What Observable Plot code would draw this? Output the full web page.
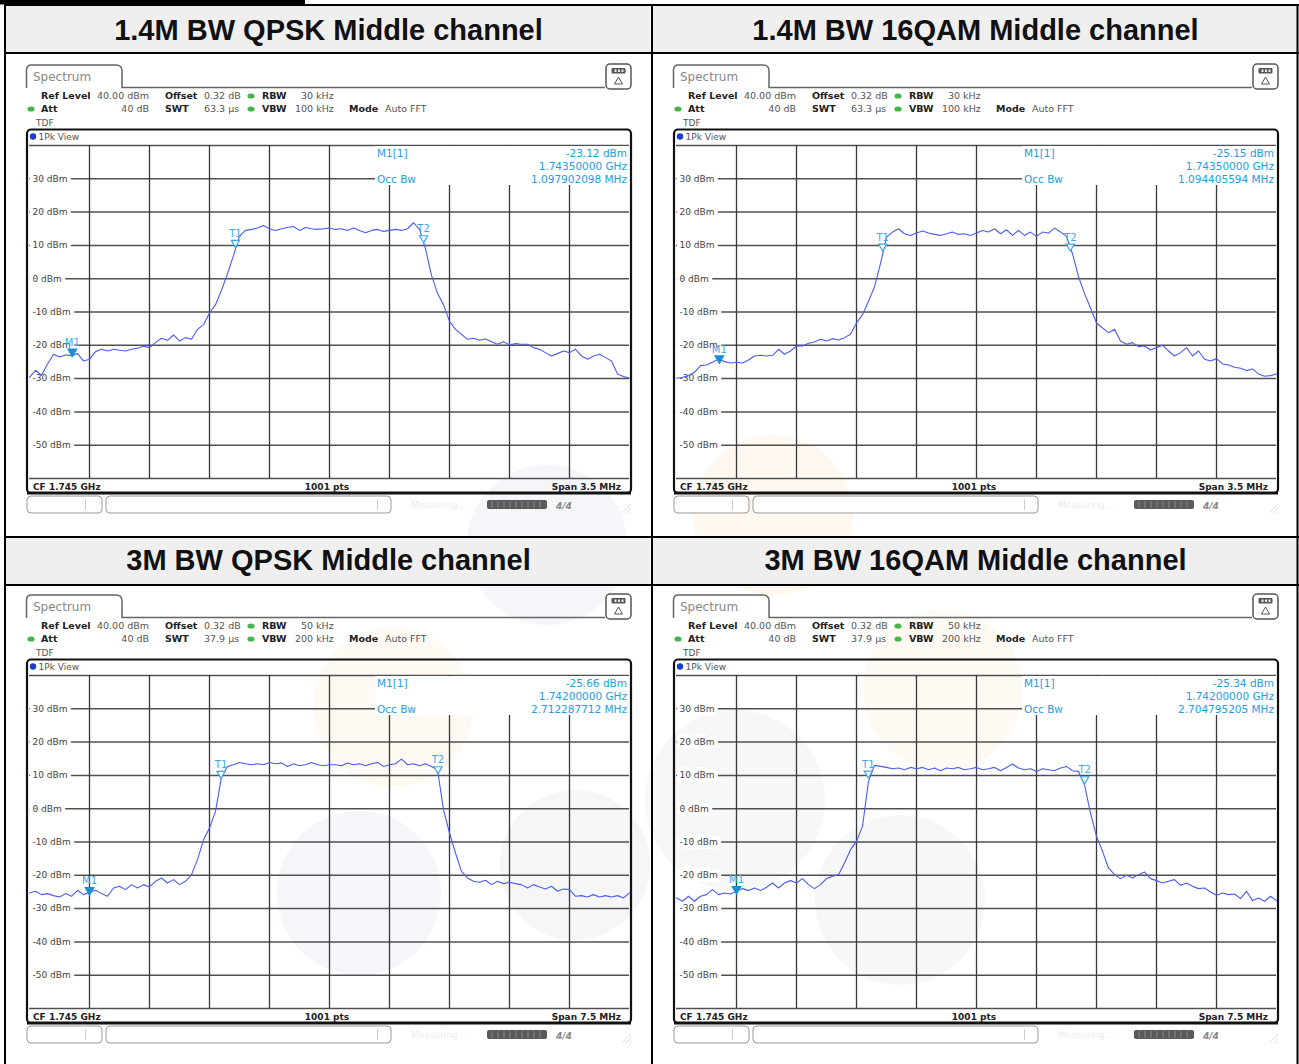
<!DOCTYPE html>
<html><head><meta charset="utf-8">
<script src="https://cdn.jsdelivr.net/npm/d3@7"></script>
<script src="https://cdn.jsdelivr.net/npm/@observablehq/plot@0.6"></script>
<style>
html,body{margin:0;padding:0;background:#fff;}
#wrap{position:relative;width:1299px;height:1064px;overflow:hidden;font-family:"DejaVu Sans",sans-serif;}
#bg{position:absolute;left:0;top:0;z-index:1;}
#chrome{position:absolute;left:0;top:0;z-index:3;pointer-events:none;}
.plotbox{position:absolute;z-index:2;}
</style></head><body>
<div id="wrap"><svg id="bg" width="1299" height="1064"></svg><svg id="chrome" width="1299" height="1064"></svg></div>
<script>
// ---------------- data ----------------
const panelTitles = ["1.4M BW QPSK Middle channel", "1.4M BW 16QAM Middle channel", "3M BW QPSK Middle channel", "3M BW 16QAM Middle channel"];
const centerGHz = 1.745;
const spanMHz = [3.5, 3.5, 7.5, 7.5];
const rbwText = ["30 kHz", "30 kHz", "50 kHz", "50 kHz"];
const vbwText = ["100 kHz", "100 kHz", "200 kHz", "200 kHz"];
const swtText = ["63.3 µs", "63.3 µs", "37.9 µs", "37.9 µs"];
const levelGrid = [40, 30, 20, 10, 0, -10, -20, -30, -40, -50, -60];
const levelLabels = [30, 20, 10, 0, -10, -20, -30, -40, -50];
const m1FreqGHz = [1.7435, 1.7435, 1.742, 1.742];
const m1Level = [-23.12, -25.15, -25.66, -25.34];
const occBwMHz = [1.097902098, 1.094405594, 2.712287712, 2.704795205];
const t1Level = [9.6, 8.5, 9.3, 9.4];
const t2Level = [11.0, 8.5, 10.7, 7.7];

// traces: level (dBm) sampled every 1/100 of the span, left to right
const traceQpsk14 = [-29.6,-27.5,-29,-25.6,-22.7,-23.5,-22.9,-23.1,-22.5,-24.7,
-24.2,-21.9,-21.2,-21.7,-21.2,-21.5,-21.7,-21.2,-20.9,-20.3,
-20.7,-19.2,-17.9,-18.5,-16.9,-18.7,-17.7,-18.2,-15.2,-13.8,
-10.3,-7.8,-3.5,1.5,7,12.8,14.5,14.8,15.2,16,
15,14.5,15,15.4,15.7,14.5,15.4,15,14.8,15,
15.2,14.8,15,14.5,15.2,14.5,13.8,14.5,14.8,14.2,
14.5,14.8,14.5,15,16.8,14.8,9,1,-4.4,-7.8,
-12.8,-15.2,-16.7,-18.2,-17.9,-18.5,-18.1,-18.9,-19.7,-18.9,
-19.9,-19.5,-19.7,-19.7,-20.7,-21.2,-22.2,-23.2,-22.5,-21.7,
-22.2,-21.2,-23.2,-24.2,-23.2,-22.7,-23.7,-24.7,-28.6,-29.4,
-29.8];
const trace16qam14 = [-29.9,-29.6,-29.1,-28.1,-26.1,-25.9,-25.1,-24.2,-24.9,-25.3,
-25.1,-25.3,-24.4,-23.2,-23,-23.2,-23,-21.2,-22.7,-21.7,
-20.2,-20.2,-19.4,-19,-18.2,-18.7,-18,-18.4,-17.7,-16.7,
-13.3,-10.8,-6.8,-2.4,4.5,12.5,14,15,13.5,13,
13.7,14.3,13.7,13.3,13,13.5,14,13.3,13.5,13,
13.7,14.5,14,15,13.5,14.7,13,14.5,13,14,
12.7,14,13.7,15.2,14,12.7,7.5,0.6,-4.4,-8.8,
-13.3,-14.8,-16.2,-15.2,-18.7,-19.7,-19.2,-20.4,-20.2,-21.4,
-20.7,-20,-21.7,-23.2,-22.2,-20.7,-23.2,-21.7,-24.2,-24.7,
-24,-25.6,-25.9,-26.6,-26.9,-27.6,-27.1,-28.6,-29.3,-29.1,
-28.6];
const traceQpsk3 = [-25.3,-24.8,-25.8,-25.5,-26.1,-26.5,-25.5,-26.3,-24.5,-25.8,
-25.1,-24.5,-25.5,-26.3,-23.8,-23.3,-24.3,-22.8,-23.8,-22.8,
-23.5,-21.8,-20.8,-22.3,-21.3,-22.8,-21.8,-19.8,-15.3,-9.3,
-5.8,-0.8,9.5,12.7,13.2,13.9,13.5,13.2,13.5,13.2,
13.9,13.5,13.7,12.7,13.5,12.9,13.2,13.9,13.2,12.9,
13.2,13.2,12.9,13.7,13.2,13.5,12.9,13.5,13.9,12.7,
13.2,13.5,14.9,13.2,13.5,12.9,13.5,12.7,11.7,-0.3,
-7.3,-13.3,-18.8,-20.8,-21.8,-22.1,-21.5,-22.8,-21.8,-22.5,
-22.1,-22.5,-22.8,-23.8,-22.8,-23.5,-24.1,-23.3,-24.8,-24.1,
-24.3,-26.3,-26.1,-26.5,-25.8,-26.5,-26.1,-26.5,-26.1,-26.8,
-25.3];
const trace16qam3 = [-26.8,-27.8,-26.3,-27.8,-26.3,-25.8,-24.3,-25.8,-25.3,-25.6,
-24.8,-24,-24.6,-23.8,-24.6,-23.6,-22.3,-23.8,-22.3,-21.6,
-22.3,-21,-22.8,-24,-22.8,-21,-20.3,-19.8,-16.3,-12.3,
-9.8,-5.3,8.2,13,12.7,12.4,12,12.2,11.7,12.4,
12,12.4,11.7,12.2,11.4,12.2,12,12.4,11.7,12,
12.4,11.7,12,12.4,11.4,12.4,13.4,12.2,11.7,12,
11.2,12,11.7,11.4,12.2,12.7,11.4,11.2,7.2,-1.3,
-8.3,-12.8,-17.8,-19.8,-21,-20,-20.8,-19.8,-19,-21,
-21.6,-22.3,-21.8,-21.3,-23,-22.3,-23.3,-24,-23.8,-25,
-26,-25.3,-25.8,-25.6,-27,-24.8,-27.6,-26.8,-27.8,-26.3,
-27.6];
const traces = [traceQpsk14, trace16qam14, traceQpsk3, trace16qam3];

// ---------------- layout ----------------
const panelOffsets = [[0, 0], [647, 0], [0, 530], [647, 530]];
const TRACE = "#4a5cf2", MARK = "#1f9ce3", MARK2 = "#3aa8e8";

const bg = d3.select("#bg");
const chrome = d3.select("#chrome");
const wrap = document.getElementById("wrap");

function txt(g, x, y, s, o = {}) {
  return g.append("text").attr("x", x).attr("y", y).text(s)
    .attr("font-size", o.size || 9.5)
    .attr("font-weight", o.bold ? "bold" : null)
    .attr("font-style", o.italic ? "italic" : null)
    .attr("text-anchor", o.anchor || "start")
    .attr("fill", o.fill || "#444")
    .attr("font-family", o.family || "DejaVu Sans");
}

// watermark blobs (very faint)
[[547, 545, 80, "#f5f6f9"], [359, 893, 82, "#f5f6f9"], [575, 865, 75, "#f6f6f9"],
 [393, 707, 80, "#fef9f3"], [773, 515, 80, "#fef8f1"], [943, 690, 80, "#fef9f3"],
 [735, 800, 90, "#f6f7f9"], [900, 900, 85, "#f6f7f9"]].forEach(([x, y, r, c]) =>
  bg.append("circle").attr("cx", x).attr("cy", y).attr("r", r).attr("fill", c));

// table
bg.append("rect").attr("x", 0).attr("y", 0).attr("width", 305).attr("height", 4.5).attr("fill", "#000");
[[6, 6], [653, 6], [6, 538], [653, 538]].forEach(([x, y]) =>
  bg.append("rect").attr("x", x).attr("y", y).attr("width", 644).attr("height", 46).attr("fill", "#efefef"));
const lines = [[4, 5, 1299, 5], [5, 4, 5, 1064], [1297.5, 4, 1297.5, 1064], [652, 4, 652, 1064],
  [4, 53, 1299, 53], [4, 537, 1299, 537], [4, 585, 1299, 585]];
lines.forEach(([x1, y1, x2, y2]) => bg.append("line").attr("x1", x1).attr("y1", y1).attr("x2", x2).attr("y2", y2)
  .attr("stroke", "#000").attr("stroke-width", 2));
panelTitles.forEach((t, i) => {
  const [ox, oy] = panelOffsets[i];
  txt(bg, 328.5 + ox, 40 + oy, t, {size: 29, bold: true, anchor: "middle", fill: "#111", family: "Liberation Sans, Arial, sans-serif"});
});

function greenDot(g, x, y) {
  g.append("ellipse").attr("cx", x).attr("cy", y).attr("rx", 3.6).attr("ry", 2.6).attr("fill", "#45b549");
}

function drawPanel(i) {
  const [ox, oy] = panelOffsets[i];
  const span = spanMHz[i];
  const n = traces[i].length;
  const rows = traces[i].map((v, k) => ({f: -span / 2 + span * k / (n - 1), level: v}));
  const divs = d3.range(1, 10).map(k => -span / 2 + span * k / 10);
  const markers = [
    {name: "M1", f: (m1FreqGHz[i] - centerGHz) * 1000, level: m1Level[i], filled: true},
    {name: "T1", f: -occBwMHz[i] / 2, level: t1Level[i], filled: false},
    {name: "T2", f: occBwMHz[i] / 2, level: t2Level[i], filled: false}
  ];
  const chart = Plot.plot({
    width: 600, height: 333, margin: 0,
    x: {domain: [-span / 2, span / 2], axis: null},
    y: {domain: [-60, 40], axis: null},
    style: {background: "transparent", overflow: "visible", fontFamily: "DejaVu Sans"},
    marks: [
      Plot.ruleY(levelGrid, {stroke: "#505050", strokeWidth: 1.5}),
      Plot.ruleX(divs, {stroke: "#383838", strokeWidth: 1.3}),
      Plot.text(levelLabels, {x: -span / 2, y: d => d, text: d => `${d} dBm`, textAnchor: "start", dx: 3, fontSize: 9,
        fill: "#444", stroke: "white", strokeWidth: 8, paintOrder: "stroke"}),
      Plot.line(rows, {x: "f", y: "level", stroke: TRACE, strokeWidth: 1.1}),
      Plot.dot(markers.filter(m => !m.filled), {x: "f", y: "level", symbol: "triangle", rotate: 180, r: 3, dy: -4,
        stroke: MARK2, fill: "white", strokeWidth: 1.2}),
      Plot.dot(markers.filter(m => m.filled), {x: "f", y: "level", symbol: "triangle", rotate: 180, r: 3, dy: -4,
        stroke: "#1a8fd6", fill: "#1a8fd6"}),
      Plot.text(markers, {x: "f", y: "level", text: "name", dy: -13, fontSize: 10, fill: MARK2})
    ]
  });
  const box = document.createElement("div");
  box.className = "plotbox";
  box.style.left = (ox + 29) + "px";
  box.style.top = (oy + 145) + "px";
  box.appendChild(chart);
  wrap.appendChild(box);

  // ----- instrument chrome -----
  const g = chrome.append("g").attr("transform", `translate(${ox},${oy})`);
  g.append("path").attr("d", "M26.5,88 V70 Q26.5,65 31.5,65 H116 Q122,65 122,71 V87.5 H605")
    .attr("fill", "none").attr("stroke", "#666").attr("stroke-width", 1.5);
  txt(g, 33, 81, "Spectrum", {size: 12, fill: "#888"});
  g.append("rect").attr("x", 606).attr("y", 64).attr("width", 25).attr("height", 25).attr("rx", 4)
    .attr("fill", "white").attr("stroke", "#555").attr("stroke-width", 1.5);
  g.append("rect").attr("x", 611.5).attr("y", 68).attr("width", 14).attr("height", 5.5).attr("rx", 1).attr("fill", "#555");
  [614.5, 618, 621.5].forEach(x => g.append("rect").attr("x", x).attr("y", 69.5).attr("width", 2).attr("height", 2.5).attr("fill", "#eee"));
  g.append("path").attr("d", "M618.5,77 L614.5,84 H622.5 Z").attr("fill", "none").attr("stroke", "#555").attr("stroke-width", 1);

  // settings
  txt(g, 41, 99, "Ref Level", {bold: true, fill: "#222"});
  txt(g, 97, 99, "40.00 dBm", {fill: "#555"});
  txt(g, 165, 99, "Offset", {bold: true, fill: "#222"});
  txt(g, 204, 99, "0.32 dB", {fill: "#555"});
  greenDot(g, 251, 96);
  txt(g, 262, 99, "RBW", {bold: true, fill: "#222"});
  txt(g, 301, 99, rbwText[i], {fill: "#555"});
  greenDot(g, 31, 109);
  txt(g, 41, 112, "Att", {bold: true, fill: "#222"});
  txt(g, 149, 112, "40 dB", {fill: "#555", anchor: "end"});
  txt(g, 165, 112, "SWT", {bold: true, fill: "#222"});
  txt(g, 204, 112, swtText[i], {fill: "#555"});
  greenDot(g, 251, 109);
  txt(g, 262, 112, "VBW", {bold: true, fill: "#222"});
  txt(g, 295, 112, vbwText[i], {fill: "#555"});
  txt(g, 349, 112, "Mode", {bold: true, fill: "#222"});
  txt(g, 385, 112, "Auto FFT", {fill: "#555"});
  txt(g, 36, 125.5, "TDF", {size: 9, fill: "#555"});

  // diagram frame
  g.append("rect").attr("x", 27).attr("y", 129.5).attr("width", 604).attr("height", 363.5).attr("rx", 4)
    .attr("fill", "none").attr("stroke", "#111").attr("stroke-width", 2.2);
  g.append("line").attr("x1", 27).attr("x2", 631).attr("y1", 493).attr("y2", 493).attr("stroke", "#111").attr("stroke-width", 3);
  g.append("circle").attr("cx", 33).attr("cy", 136.5).attr("r", 3.2).attr("fill", "#1e3ccf");
  txt(g, 38.5, 140, "1Pk View", {size: 9, fill: "#555"});

  // marker info block
  g.append("rect").attr("x", 375).attr("y", 146).attr("width", 254).attr("height", 39).attr("fill", "white");
  txt(g, 377, 157, "M1[1]", {size: 10.5, fill: MARK});
  txt(g, 627, 157, `${m1Level[i].toFixed(2)} dBm`, {size: 10.5, fill: MARK, anchor: "end"});
  txt(g, 627, 169.5, `${m1FreqGHz[i].toFixed(8)} GHz`, {size: 10.5, fill: MARK, anchor: "end"});
  txt(g, 377, 182.5, "Occ Bw", {size: 10.5, fill: MARK});
  txt(g, 627, 182.5, `${occBwMHz[i].toFixed(9)} MHz`, {size: 10.5, fill: MARK, anchor: "end"});

  // footer
  txt(g, 33, 489.5, `CF ${centerGHz.toFixed(3)} GHz`, {size: 9, bold: true, fill: "#222"});
  txt(g, 327, 489.5, "1001 pts", {size: 9, bold: true, fill: "#222", anchor: "middle"});
  txt(g, 621, 489.5, `Span ${spanMHz[i]} MHz`, {size: 9, bold: true, fill: "#222", anchor: "end"});

  // status bar
  g.append("rect").attr("x", 27).attr("y", 496).attr("width", 75).attr("height", 17).attr("rx", 4)
    .attr("fill", "white").attr("stroke", "#999");
  g.append("line").attr("x1", 85.5).attr("x2", 85.5).attr("y1", 499).attr("y2", 510).attr("stroke", "#ccc");
  g.append("rect").attr("x", 106).attr("y", 496).attr("width", 285).attr("height", 17).attr("rx", 4)
    .attr("fill", "white").attr("stroke", "#999");
  g.append("line").attr("x1", 377.5).attr("x2", 377.5).attr("y1", 499).attr("y2", 510).attr("stroke", "#ccc");
  txt(g, 411, 508, "Measuring...", {size: 9, fill: "#ececec"});
  g.append("rect").attr("x", 487).attr("y", 500).attr("width", 60).attr("height", 9).attr("rx", 2).attr("fill", "#5a5a5a");
  d3.range(492, 545, 6).forEach(x => g.append("line").attr("x1", x).attr("x2", x).attr("y1", 501).attr("y2", 508).attr("stroke", "#888").attr("stroke-width", 1));
  txt(g, 556, 509, "4/4", {size: 9, bold: true, italic: true, fill: "#888"});
  [0, 4, 8].forEach(d => g.append("line").attr("x1", 622 + d).attr("y1", 513).attr("x2", 631).attr("y2", 504 + d).attr("stroke", "#ddd"));
}

traces.forEach((_, i) => drawPanel(i));
</script>
</body></html>
